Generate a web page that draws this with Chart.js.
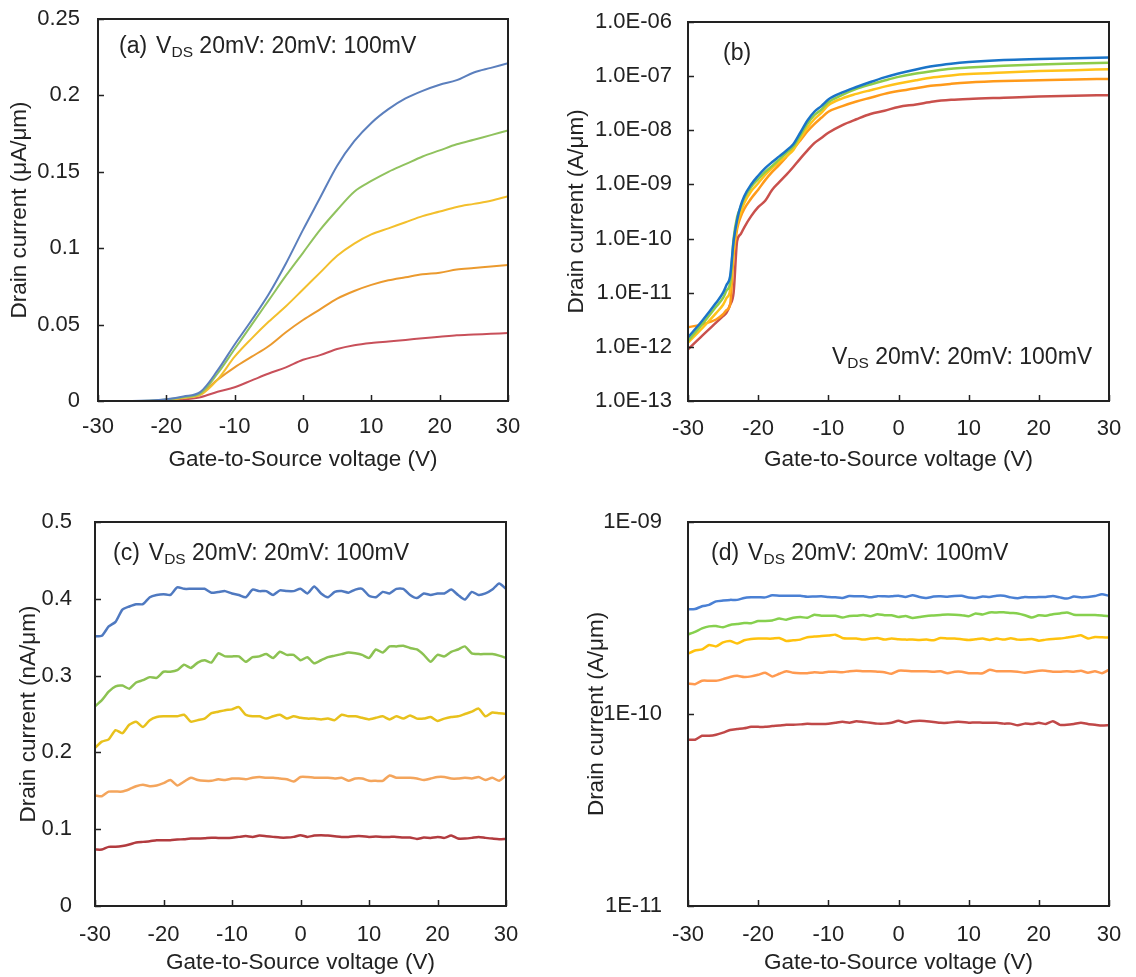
<!DOCTYPE html>
<html><head><meta charset="utf-8">
<script src="https://cdn.jsdelivr.net/npm/chart.js@4.4.1/dist/chart.umd.min.js"></script>
<style>
html,body{margin:0;padding:0;background:#fff;width:1136px;height:977px;overflow:hidden}
canvas{position:absolute}
</style></head><body>
<canvas id="ca" width="560" height="490" style="left:0px;top:0px"></canvas>
<canvas id="cb" width="576" height="490" style="left:560px;top:0px"></canvas>
<canvas id="cc" width="560" height="487" style="left:0px;top:490px"></canvas>
<canvas id="cd" width="576" height="487" style="left:560px;top:490px"></canvas>
<script>
// ---------- series names (VDS, top curve = 100 mV) ----------
const seriesNames = ['100 mV', '80 mV', '60 mV', '40 mV', '20 mV'];

// ---------- tick values / labels ----------
const xTicks = [-30, -20, -10, 0, 10, 20, 30];
const xTickLabels = ['-30', '-20', '-10', '0', '10', '20', '30'];
const aYTicks = [0, 0.05, 0.1, 0.15, 0.2, 0.25];
const aYLabels = ['0', '0.05', '0.1', '0.15', '0.2', '0.25'];
const bYTicks = [1e-13, 1e-12, 1e-11, 1e-10, 1e-9, 1e-8, 1e-7, 1e-6];
const bYLabels = ['1.0E-13', '1.0E-12', '1.0E-11', '1.0E-10', '1.0E-09', '1.0E-08', '1.0E-07', '1.0E-06'];
const cYTicks = [0, 0.1, 0.2, 0.3, 0.4, 0.5];
const cYLabels = ['0', '0.1', '0.2', '0.3', '0.4', '0.5'];
const dYTicks = [1e-11, 1e-10, 1e-9];
const dYLabels = ['1E-11', '1E-10', '1E-09'];

// ---------- panel (a): linear, µA/µm ----------
const aX = [-30,-27.5,-25,-22.5,-20,-17.5,-15,-12.5,-10,-7.5,-5,-2.5,0,2.5,5,7.5,10,12.5,15,17.5,20,22.5,25,27.5,30];
const aBlue   = [0,0,0,0.0003,0.0012,0.003,0.006,0.02,0.037,0.053,0.07,0.09,0.112,0.133,0.154,0.170,0.182,0.191,0.198,0.203,0.207,0.210,0.215,0.218,0.221];
const aGreen  = [0,0,0,0.0002,0.001,0.0025,0.005,0.018,0.034,0.05,0.066,0.082,0.097,0.112,0.125,0.137,0.144,0.150,0.155,0.160,0.164,0.168,0.171,0.174,0.177];
const aYellow = [0,0,0,0,0.0005,0.002,0.004,0.014,0.029,0.041,0.052,0.062,0.073,0.084,0.095,0.103,0.109,0.113,0.117,0.121,0.124,0.127,0.129,0.131,0.134];
const aOrange = [0,0,0,0,0.0003,0.0025,0.005,0.014,0.022,0.029,0.036,0.045,0.053,0.060,0.067,0.072,0.076,0.079,0.081,0.083,0.084,0.086,0.087,0.088,0.089];
const aRed    = [0,0,0,0,0.0002,0.001,0.0025,0.006,0.009,0.0135,0.018,0.022,0.027,0.030,0.034,0.0365,0.038,0.039,0.040,0.041,0.042,0.043,0.0435,0.044,0.0445];

// ---------- panel (b): log, A/µm ----------
const bX = [-30,-28,-26,-25,-24.5,-24,-23.5,-23,-22.5,-22,-21,-20,-19,-18,-17,-16,-15,-14,-13,-12,-11,-10,-8,-6,-4,-2,0,2.5,5,7.5,10,15,20,25,30];
const bBlue   = [1.5e-12,3.0e-12,6.5e-12,1.0e-11,1.4e-11,2.0e-11,9e-11,2.2e-10,4.0e-10,6.0e-10,1.0e-9,1.45e-9,2.0e-9,2.6e-9,3.3e-9,4.2e-9,5.5e-9,9e-9,1.5e-8,2.2e-8,2.8e-8,3.7e-8,5.0e-8,6.3e-8,7.8e-8,9.5e-8,1.12e-7,1.33e-7,1.54e-7,1.70e-7,1.82e-7,1.98e-7,2.07e-7,2.15e-7,2.21e-7];
const bGreen  = [1.3e-12,2.6e-12,5.5e-12,8e-12,1.1e-11,1.5e-11,1.0e-10,2.5e-10,3.8e-10,5.5e-10,9e-10,1.25e-9,1.7e-9,2.2e-9,2.9e-9,3.8e-9,5e-9,8e-9,1.3e-8,1.9e-8,2.4e-8,3.3e-8,4.5e-8,5.8e-8,7.0e-8,8.3e-8,9.7e-8,1.12e-7,1.25e-7,1.37e-7,1.44e-7,1.55e-7,1.64e-7,1.71e-7,1.77e-7];
const bYellow = [1.2e-12,2.2e-12,4.2e-12,6e-12,8e-12,1.1e-11,6e-11,1.8e-10,3.0e-10,4.5e-10,7.5e-10,1.05e-9,1.5e-9,2.0e-9,2.6e-9,3.3e-9,4.3e-9,7e-9,1.1e-8,1.6e-8,2.1e-8,2.9e-8,3.9e-8,4.7e-8,5.5e-8,6.4e-8,7.3e-8,8.4e-8,9.5e-8,1.03e-7,1.09e-7,1.17e-7,1.24e-7,1.29e-7,1.34e-7];
const bOrange = [2.3e-12,2.6e-12,3.2e-12,4e-12,4.8e-12,6e-12,5e-11,1.5e-10,2.5e-10,3.5e-10,5.5e-10,8e-10,1.2e-9,1.7e-9,2.3e-9,3.2e-9,4.5e-9,6.5e-9,9.5e-9,1.3e-8,1.7e-8,2.2e-8,2.8e-8,3.4e-8,4.0e-8,4.7e-8,5.3e-8,6.0e-8,6.7e-8,7.2e-8,7.6e-8,8.1e-8,8.4e-8,8.7e-8,8.9e-8];
const bRed    = [9e-13,1.6e-12,2.8e-12,3.7e-12,4.3e-12,6e-12,1e-11,9e-11,1.2e-10,1.6e-10,2.6e-10,3.8e-10,5e-10,8e-10,1.1e-9,1.5e-9,2.1e-9,3e-9,4.2e-9,5.8e-9,7.2e-9,9e-9,1.25e-8,1.6e-8,2.0e-8,2.3e-8,2.7e-8,3.0e-8,3.4e-8,3.65e-8,3.8e-8,4.0e-8,4.2e-8,4.35e-8,4.45e-8];

// ---------- panel (c): linear, nA/µm ----------
const cX = [-30,-29,-28,-27,-26,-25,-24,-23,-22,-21,-20,-19,-18,-17,-16,-15,-14,-13,-12,-11,-10,-9,-8,-7,-6,-5,-4,-3,-2,-1,0,1,2,3,4,5,6,7,8,9,10,11,12,13,14,15,16,17,18,19,20,21,22,23,24,25,26,27,28,29,30];
const cBlue   = [0.351,0.352,0.364,0.370,0.386,0.390,0.393,0.393,0.402,0.405,0.406,0.405,0.415,0.413,0.413,0.413,0.413,0.408,0.409,0.410,0.407,0.405,0.402,0.412,0.410,0.410,0.405,0.411,0.410,0.410,0.413,0.407,0.416,0.407,0.402,0.409,0.410,0.408,0.412,0.413,0.404,0.402,0.409,0.407,0.413,0.413,0.405,0.401,0.407,0.405,0.407,0.407,0.412,0.405,0.399,0.409,0.405,0.407,0.412,0.420,0.413];
const cGreen  = [0.260,0.268,0.279,0.286,0.287,0.283,0.291,0.294,0.298,0.297,0.305,0.305,0.307,0.314,0.310,0.317,0.320,0.317,0.329,0.325,0.325,0.325,0.318,0.324,0.325,0.328,0.323,0.331,0.327,0.327,0.320,0.324,0.316,0.320,0.324,0.326,0.328,0.330,0.329,0.327,0.323,0.334,0.330,0.338,0.338,0.339,0.336,0.334,0.327,0.318,0.327,0.325,0.331,0.334,0.338,0.329,0.328,0.328,0.328,0.326,0.323];
const cYellow = [0.206,0.214,0.217,0.229,0.225,0.236,0.240,0.233,0.242,0.246,0.247,0.247,0.247,0.249,0.240,0.242,0.244,0.251,0.253,0.255,0.256,0.259,0.249,0.247,0.247,0.244,0.247,0.249,0.244,0.247,0.245,0.244,0.244,0.243,0.244,0.242,0.249,0.247,0.247,0.245,0.243,0.245,0.247,0.243,0.247,0.244,0.248,0.244,0.244,0.246,0.241,0.244,0.246,0.247,0.250,0.253,0.257,0.247,0.252,0.251,0.250];
const cOrange = [0.144,0.143,0.149,0.149,0.149,0.152,0.156,0.158,0.156,0.157,0.160,0.164,0.157,0.162,0.167,0.164,0.163,0.163,0.165,0.164,0.166,0.166,0.165,0.167,0.168,0.167,0.167,0.166,0.165,0.162,0.168,0.168,0.167,0.167,0.167,0.166,0.167,0.163,0.166,0.166,0.163,0.163,0.163,0.170,0.167,0.167,0.167,0.166,0.164,0.166,0.168,0.168,0.166,0.166,0.167,0.166,0.168,0.164,0.167,0.163,0.170];
const cRed    = [0.0735,0.0735,0.077,0.077,0.078,0.080,0.0826,0.0835,0.0843,0.0857,0.0857,0.0857,0.0865,0.087,0.0878,0.0878,0.0883,0.089,0.0887,0.0887,0.089,0.090,0.091,0.090,0.0917,0.0909,0.090,0.0891,0.0891,0.090,0.0922,0.090,0.0917,0.0922,0.0917,0.0909,0.090,0.090,0.0909,0.0909,0.090,0.0904,0.090,0.090,0.090,0.0891,0.0891,0.0874,0.0891,0.0887,0.090,0.0887,0.0917,0.0878,0.0878,0.0887,0.090,0.0887,0.0878,0.087,0.0874];

// ---------- panel (d): log, A/µm ----------
const dX = cX;
const dBlue   = [3.51e-10,3.52e-10,3.64e-10,3.70e-10,3.86e-10,3.90e-10,3.93e-10,3.93e-10,4.02e-10,4.05e-10,4.06e-10,4.05e-10,4.15e-10,4.13e-10,4.13e-10,4.13e-10,4.13e-10,4.08e-10,4.09e-10,4.10e-10,4.07e-10,4.05e-10,4.02e-10,4.12e-10,4.10e-10,4.10e-10,4.05e-10,4.11e-10,4.10e-10,4.10e-10,4.13e-10,4.07e-10,4.16e-10,4.07e-10,4.02e-10,4.09e-10,4.10e-10,4.08e-10,4.12e-10,4.13e-10,4.04e-10,4.02e-10,4.09e-10,4.07e-10,4.13e-10,4.13e-10,4.05e-10,4.01e-10,4.07e-10,4.05e-10,4.07e-10,4.07e-10,4.12e-10,4.05e-10,3.99e-10,4.09e-10,4.05e-10,4.07e-10,4.12e-10,4.20e-10,4.13e-10];
const dGreen  = [2.60e-10,2.68e-10,2.79e-10,2.86e-10,2.87e-10,2.83e-10,2.91e-10,2.94e-10,2.98e-10,2.97e-10,3.05e-10,3.05e-10,3.07e-10,3.14e-10,3.10e-10,3.17e-10,3.20e-10,3.17e-10,3.29e-10,3.25e-10,3.25e-10,3.25e-10,3.18e-10,3.24e-10,3.25e-10,3.28e-10,3.23e-10,3.31e-10,3.27e-10,3.27e-10,3.20e-10,3.24e-10,3.16e-10,3.20e-10,3.24e-10,3.26e-10,3.28e-10,3.30e-10,3.29e-10,3.27e-10,3.23e-10,3.34e-10,3.30e-10,3.38e-10,3.38e-10,3.39e-10,3.36e-10,3.34e-10,3.27e-10,3.18e-10,3.27e-10,3.25e-10,3.31e-10,3.34e-10,3.38e-10,3.29e-10,3.28e-10,3.28e-10,3.28e-10,3.26e-10,3.23e-10];
const dYellow = [2.06e-10,2.14e-10,2.17e-10,2.29e-10,2.25e-10,2.36e-10,2.40e-10,2.33e-10,2.42e-10,2.46e-10,2.47e-10,2.47e-10,2.47e-10,2.49e-10,2.40e-10,2.42e-10,2.44e-10,2.51e-10,2.53e-10,2.55e-10,2.56e-10,2.59e-10,2.49e-10,2.47e-10,2.47e-10,2.44e-10,2.47e-10,2.49e-10,2.44e-10,2.47e-10,2.45e-10,2.44e-10,2.44e-10,2.43e-10,2.44e-10,2.42e-10,2.49e-10,2.47e-10,2.47e-10,2.45e-10,2.43e-10,2.45e-10,2.47e-10,2.43e-10,2.47e-10,2.44e-10,2.48e-10,2.44e-10,2.44e-10,2.46e-10,2.41e-10,2.44e-10,2.46e-10,2.47e-10,2.50e-10,2.53e-10,2.57e-10,2.47e-10,2.52e-10,2.51e-10,2.50e-10];
const dOrange = [1.44e-10,1.43e-10,1.49e-10,1.49e-10,1.49e-10,1.52e-10,1.56e-10,1.58e-10,1.56e-10,1.57e-10,1.60e-10,1.64e-10,1.57e-10,1.62e-10,1.67e-10,1.64e-10,1.63e-10,1.63e-10,1.65e-10,1.64e-10,1.66e-10,1.66e-10,1.65e-10,1.67e-10,1.68e-10,1.67e-10,1.67e-10,1.66e-10,1.65e-10,1.62e-10,1.68e-10,1.68e-10,1.67e-10,1.67e-10,1.67e-10,1.66e-10,1.67e-10,1.63e-10,1.66e-10,1.66e-10,1.63e-10,1.63e-10,1.63e-10,1.70e-10,1.67e-10,1.67e-10,1.67e-10,1.66e-10,1.64e-10,1.66e-10,1.68e-10,1.68e-10,1.66e-10,1.66e-10,1.67e-10,1.66e-10,1.68e-10,1.64e-10,1.67e-10,1.63e-10,1.70e-10];
const dRed    = [7.35e-11,7.35e-11,7.7e-11,7.7e-11,7.8e-11,8.0e-11,8.26e-11,8.35e-11,8.43e-11,8.57e-11,8.57e-11,8.57e-11,8.65e-11,8.7e-11,8.78e-11,8.78e-11,8.83e-11,8.9e-11,8.87e-11,8.87e-11,8.9e-11,9.0e-11,9.1e-11,9.0e-11,9.17e-11,9.09e-11,9.0e-11,8.91e-11,8.91e-11,9.0e-11,9.22e-11,9.0e-11,9.17e-11,9.22e-11,9.17e-11,9.09e-11,9.0e-11,9.0e-11,9.09e-11,9.09e-11,9.0e-11,9.04e-11,9.0e-11,9.0e-11,9.0e-11,8.91e-11,8.91e-11,8.74e-11,8.91e-11,8.87e-11,9.0e-11,8.87e-11,9.17e-11,8.78e-11,8.78e-11,8.87e-11,9.0e-11,8.87e-11,8.78e-11,8.7e-11,8.74e-11];

// ---------- rendering ----------
const FONT = '"Liberation Sans", Arial, Helvetica, sans-serif';
const TXT = '#222222';
const TITLE_X = 'Gate-to-Source voltage (V)';
const TICK_SIZE = 22, TITLE_SIZE = 22.5, NOTE_SIZE = 23, SUB_SIZE = 15.5;

const framePlugin = {
  id: 'frame',
  afterDatasetsDraw(chart, args, opts) {
    const {ctx, chartArea: a, scales: {x, y}} = chart;
    ctx.save();
    ctx.strokeStyle = '#222';
    ctx.lineWidth = 1.5;
    ctx.beginPath();
    x.ticks.forEach(t => {
      const px = Math.round(x.getPixelForValue(t.value)) + 0.5;
      ctx.moveTo(px, a.bottom); ctx.lineTo(px, a.bottom - 6);
    });
    y.ticks.forEach(t => {
      const py = Math.round(y.getPixelForValue(t.value)) + 0.5;
      ctx.moveTo(a.left, py); ctx.lineTo(a.left + 6, py);
    });
    ctx.stroke();
    ctx.lineWidth = 2;
    ctx.strokeRect(a.left, a.top, a.right - a.left, a.bottom - a.top);
    (opts.notes || []).forEach(n => {
      ctx.fillStyle = TXT;
      ctx.textBaseline = 'middle';
      ctx.textAlign = 'left';
      ctx.font = NOTE_SIZE + 'px ' + FONT;
      let cx = n.x;
      if (n.tag) { ctx.fillText(n.tag, cx, n.y); cx += ctx.measureText(n.tag).width + 9; }
      if (n.vds) {
        ctx.fillText('V', cx, n.y); cx += ctx.measureText('V').width;
        ctx.font = SUB_SIZE + 'px ' + FONT;
        ctx.fillText('DS', cx, n.y + 6); cx += ctx.measureText('DS').width;
        ctx.font = NOTE_SIZE + 'px ' + FONT;
        ctx.fillText(' 20mV: 20mV: 100mV', cx, n.y);
      }
    });
    ctx.restore();
  }
};

function makeChart(id, cfg) {
  const el = document.getElementById(id);
  const W = el.width, H = el.height;
  const datasets = cfg.series.map((s, i) => ({
    label: seriesNames[i],
    data: cfg.xs.map((xv, j) => ({x: xv, y: s[j]})),
    borderColor: cfg.colors[i],
    borderWidth: cfg.lw,
    pointRadius: 0,
    fill: false,
    tension: cfg.tension || 0,
    cubicInterpolationMode: cfg.mono ? 'monotone' : 'default'
  }));
  return new Chart(el, {
    type: 'line',
    data: {datasets},
    plugins: [framePlugin],
    options: {
      responsive: false,
      animation: false,
      devicePixelRatio: 1,
      layout: {padding: {left: 0, top: cfg.box.t, right: W - cfg.box.r, bottom: 0}},
      plugins: {legend: {display: false}, tooltip: {enabled: false}, frame: {notes: cfg.notes}},
      scales: {
        x: {
          type: 'linear', min: -30, max: 30,
          afterBuildTicks: s => { s.ticks = xTicks.map(v => ({value: v})); },
          afterFit: s => { s.height = H - cfg.box.b; },
          grid: {display: false, drawTicks: true, tickLength: cfg.xTickOff}, border: {display: false},
          ticks: {autoSkip: false, maxRotation: 0, padding: 0, color: TXT,
                  font: {size: TICK_SIZE, family: FONT}, callback: (v, i) => xTickLabels[i]},
          title: {display: true, text: TITLE_X, color: TXT, font: {size: TITLE_SIZE, family: FONT},
                  padding: {top: 0, bottom: cfg.xTitlePad}}
        },
        y: {
          type: cfg.yType, min: cfg.yMin, max: cfg.yMax,
          afterBuildTicks: s => { s.ticks = cfg.yTicks.map(v => ({value: v})); },
          afterFit: s => { s.width = cfg.box.l; },
          grid: {display: false, drawTicks: true, tickLength: cfg.yTickOff}, border: {display: false},
          ticks: {autoSkip: false, padding: 0, color: TXT,
                  font: {size: TICK_SIZE, family: FONT}, callback: (v, i) => cfg.yLabels[i]},
          title: {display: true, text: cfg.yTitle, color: TXT, font: {size: TITLE_SIZE, family: FONT},
                  padding: {top: cfg.yTitlePad, bottom: 0}}
        }
      }
    }
  });
}

makeChart('ca', {
  xs: aX, series: [aBlue, aGreen, aYellow, aOrange, aRed],
  colors: ['#5b7fbd', '#90c25e', '#f3bf2c', '#eb9a2e', '#c8505a'], lw: 2, mono: true,
  box: {l: 98, r: 508, t: 19, b: 401},
  yType: 'linear', yMin: 0, yMax: 0.25, yTicks: aYTicks, yLabels: aYLabels,
  yTitle: 'Drain current (μA/μm)', yTitlePad: 6.5, yTickOff: 18, xTickOff: 13, xTitlePad: 16.5,
  notes: [{x: 119, y: 47, tag: '(a)', vds: true}]
});
makeChart('cb', {
  xs: bX, series: [bBlue, bGreen, bYellow, bOrange, bRed],
  colors: ['#1a74c8', '#8dcc4a', '#ffc21a', '#ff9a1a', '#c9504c'], lw: 2.5, mono: true,
  box: {l: 128, r: 549, t: 22, b: 401},
  yType: 'logarithmic', yMin: 1e-13, yMax: 1e-6, yTicks: bYTicks, yLabels: bYLabels,
  yTitle: 'Drain current (A/μm)', yTitlePad: 3, yTickOff: 16, xTickOff: 15, xTitlePad: 16.5,
  notes: [{x: 163, y: 54, tag: '(b)', vds: false}, {x: 272, y: 358, tag: '', vds: true}]
});
makeChart('cc', {
  xs: cX, series: [cBlue, cGreen, cYellow, cOrange, cRed],
  colors: ['#4f79c0', '#8cc252', '#e8c11c', '#f4a55c', '#b23b3f'], lw: 2.5, tension: 0.2,
  box: {l: 95, r: 506, t: 32, b: 416},
  yType: 'linear', yMin: 0, yMax: 0.5, yTicks: cYTicks, yLabels: cYLabels,
  yTitle: 'Drain current (nA/μm)', yTitlePad: 15.5, yTickOff: 23, xTickOff: 16, xTitlePad: 0.5,
  notes: [{x: 113, y: 64, tag: '(c)', vds: true}]
});
makeChart('cd', {
  xs: dX, series: [dBlue, dGreen, dYellow, dOrange, dRed],
  colors: ['#4a80d4', '#86d04e', '#ffc20e', '#ff9a50', '#c04848'], lw: 2.5, tension: 0.2,
  box: {l: 128, r: 549, t: 32, b: 416},
  yType: 'logarithmic', yMin: 1e-11, yMax: 1e-9, yTicks: dYTicks, yLabels: dYLabels,
  yTitle: 'Drain current (A/μm)', yTitlePad: 23.5, yTickOff: 26, xTickOff: 16, xTitlePad: 0.5,
  notes: [{x: 151, y: 64, tag: '(d)', vds: true}]
});
</script>
</body></html>
